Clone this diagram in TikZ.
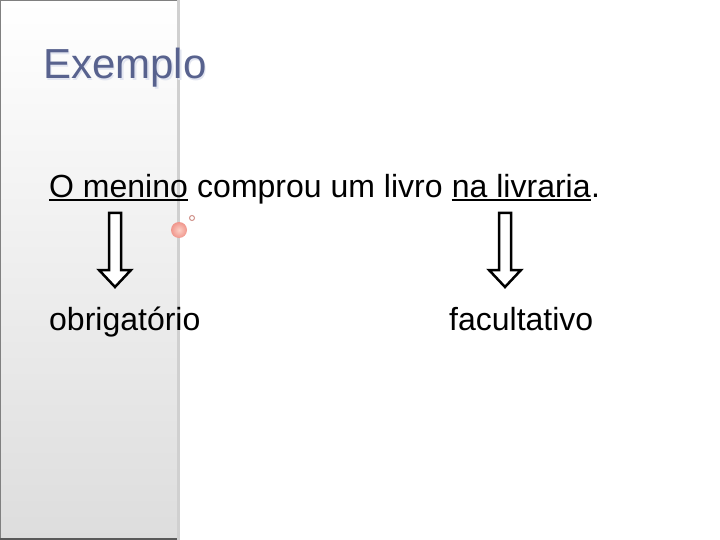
\documentclass[tikz,border=0pt]{standalone}
\usepackage{fontspec}
\setmainfont{Liberation Sans}
\usetikzlibrary{positioning}
\definecolor{titleblue}{RGB}{88,98,142}
\definecolor{titleshade}{RGB}{226,229,240}
\definecolor{panelgray}{RGB}{221,221,221}
\definecolor{panelline}{RGB}{208,208,208}
\definecolor{ballpink}{RGB}{240,150,140}
\definecolor{balllight}{RGB}{252,208,198}
\tikzset{
  word/.style={inner sep=0pt, anchor=base west, font=\fontsize{32}{38}\selectfont},
  heading/.style={inner sep=0pt, anchor=base west, font=\fontsize{42}{50}\selectfont},
  uline/.style={line width=2.5pt},
  blockarrow/.pic={
    \draw[line width=2.5pt, fill=white, line join=miter]
      (-6,0) -- (6,0) -- (6,57) -- (16,57) -- (0,74) -- (-16,57) -- (-6,57) -- cycle;
  },
}
\begin{document}
\begin{tikzpicture}[x=1pt,y=-1pt]
\useasboundingbox (0,0) rectangle (720,540);
% left panel
\shade[top color=white, bottom color=panelgray] (0,0) rectangle (178,540);
\draw[panelline, line width=3pt] (178,0) -- (178,540);
\draw[gray, line width=1.5pt] (0,540) -- (0,0) -- (177,0);
\draw[gray!70!black, line width=1.5pt] (0,539) -- (177,539);
% title
\node[heading, text=titleshade] at (44.5,80.5) {Exemplo};
\node[heading, text=titleblue] (title) at (43,79) {Exemplo};
% sentence
\node[word] (subj) at (49,197) {O menino};
\node[word, base right=8.9pt of subj] (verb) {comprou um livro};
\node[word, base right=8.9pt of verb] (adv) {na livraria};
\node[word, base right=0pt of adv] (stop) {.};
\draw[uline] ([yshift=-3pt]subj.base west) -- ([yshift=-3pt]subj.base east);
\draw[uline] ([yshift=-3pt]adv.base west) -- ([yshift=-3pt]adv.base east);
% arrows
\coordinate (arrL) at (115,213);
\coordinate (arrR) at (505,213);
\pic at (arrL) {blockarrow};
\pic at (arrR) {blockarrow};
\node[word] (obr) at (49,330) {obrigatório};
\node[word] (fac) at (449,330) {facultativo};
% decoration
\shade[inner color=balllight, outer color=ballpink] (179,230) circle (8pt);
\draw[ballpink!70!gray, line width=1pt] (192,218) circle (2.5pt);
\end{tikzpicture}
\end{document}
